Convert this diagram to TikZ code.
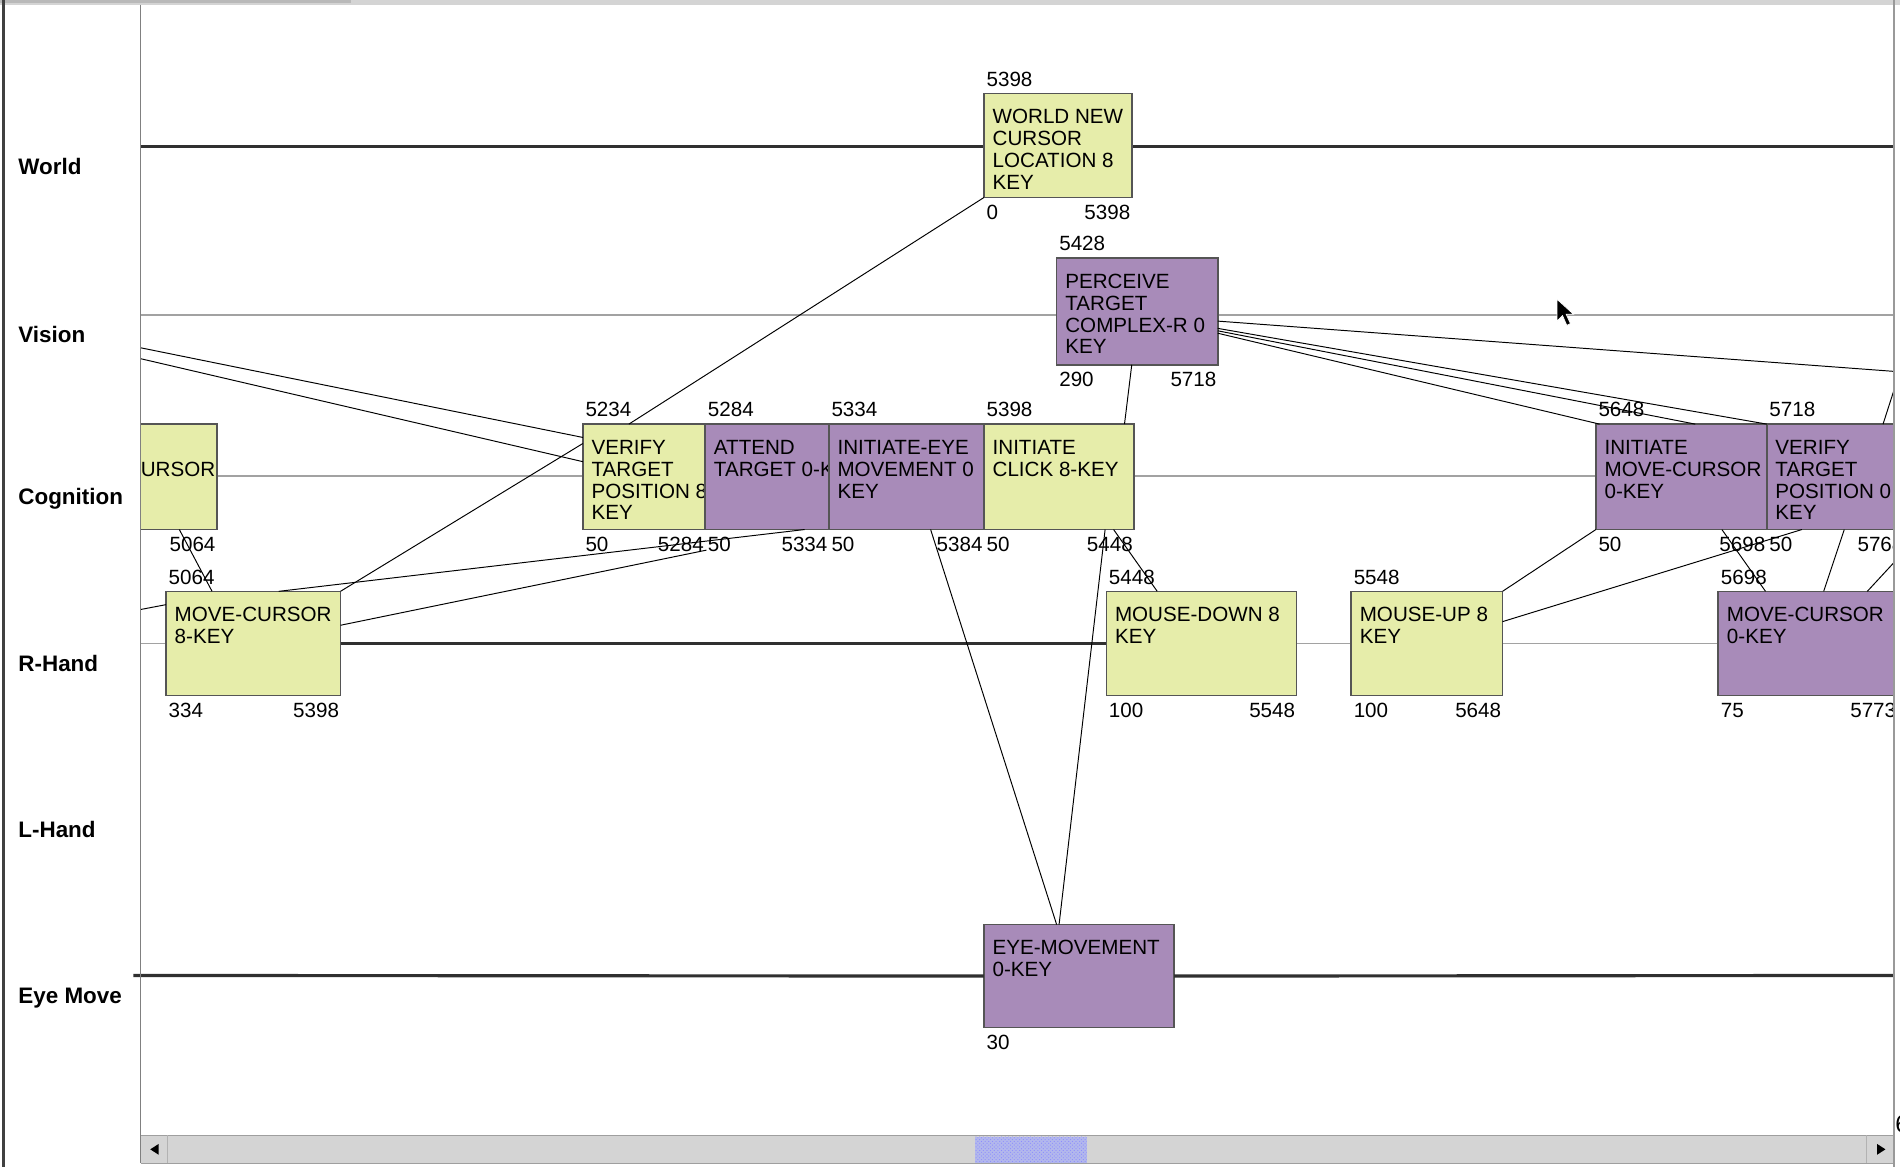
\documentclass[tikz,border=0pt]{standalone}
\usepackage{fontspec}
\setmainfont{Liberation Sans}
\usepackage{xcolor}
\usepackage{tikz}
\usetikzlibrary{positioning,calc,patterns}
\definecolor{opyellow}{HTML}{E6EDAA}
\definecolor{oppurple}{HTML}{A88BB9}
\definecolor{opedge}{HTML}{555555}
\definecolor{lanegray}{HTML}{A2A2A2}
\definecolor{lanedark}{HTML}{303030}
\definecolor{framegray}{HTML}{D4D4D4}
\definecolor{thumbblue}{HTML}{B3B8EC}

\begin{document}
\begin{tikzpicture}[x=1pt, y=-1pt,
  opbox/.style={draw=opedge, line width=1.3pt, inner sep=0pt, outer sep=0pt, anchor=north west},
  optext/.style={font=\fontsize{17}{18}\selectfont, inner sep=0pt, anchor=base west},
  timelab/.style={font=\fontsize{17}{18}\selectfont, inner sep=0pt},
  lanelab/.style={font=\fontsize{18.5}{20}\selectfont\bfseries, inner sep=0pt, anchor=base west},
  thinlane/.style={draw=lanegray, line width=1.5pt},
  thicklane/.style={draw=lanedark, line width=2.6pt},
  dep/.style={draw=black, line width=0.8pt},
]
\useasboundingbox (0,0) rectangle (1568,963);
\def\xL{116}\def\xR{1562}

\begin{scope}
\clip (\xL,4) rectangle (\xR,937);
% lanes: World, Vision, Cognition, R-Hand
\draw[thicklane] (\xL,121) -- (\xR,121);
\draw[thinlane] (\xL,260) -- (\xR,260);
\draw[thinlane] (\xL,393) -- (\xR,393);
\draw[thinlane] (\xL,531) -- (\xR,531);

% operator boxes: name/fill/x1/y1/x2/y2/text
\foreach \nm/\col/\xa/\ya/\xb/\yb/\txt in {%
  wnc/opyellow/812/77/934/163/{WORLD NEW\\CURSOR\\LOCATION 8\\KEY},
  ptc/oppurple/872/213/1005/301/{PERCEIVE\\TARGET\\COMPLEX-R 0\\KEY},
  curs/opyellow/41/350/179/437/{INITIATE\\MOVE-CURSOR\\8-KEY},
  vtpa/opyellow/481/350/582/437/{VERIFY\\TARGET\\POSITION 8\\KEY},
  att/oppurple/582/350/684/437/{ATTEND\\TARGET 0-KEY},
  iem/oppurple/684/350/812/437/{INITIATE-EYE\\MOVEMENT 0\\KEY},
  icl/opyellow/812/350/936/437/{INITIATE\\CLICK 8-KEY},
  imc/oppurple/1317/350/1458/437/{INITIATE\\MOVE-CURSOR\\0-KEY},
  vtpb/oppurple/1458/350/1572/437/{VERIFY\\TARGET\\POSITION 0\\KEY},
  mca/opyellow/137/488/281/574/{MOVE-CURSOR\\8-KEY},
  mdn/opyellow/913/488/1070/574/{MOUSE-DOWN 8\\KEY},
  mup/opyellow/1115/488/1240/574/{MOUSE-UP 8\\KEY},
  mcb/oppurple/1418/488/1566/574/{MOVE-CURSOR\\0-KEY},
  eye/oppurple/812/763/969/848/{EYE-MOVEMENT\\0-KEY}%
}{
  \pgfmathsetmacro{\w}{\xb-\xa}
  \pgfmathsetmacro{\h}{\yb-\ya}
  \node[opbox, fill=\col, minimum width=\w pt, minimum height=\h pt] (\nm) at (\xa,\ya) {};
  \begin{scope}
    \clip (\xa,\ya) rectangle (\xb,\yb);
    \node[optext] at ([xshift=7pt,yshift=-25pt]\nm.north west)
      {\begin{tabular}[t]{@{}l@{}}\txt\end{tabular}};
  \end{scope}
}
% R-Hand busy stretch
\draw[thicklane] (mca.east) -- (mdn.west);

% start times above, durations below left, end times below right
\foreach \nm/\t in {wnc/5398, ptc/5428, vtpa/5234, att/5284, iem/5334, icl/5398,
                    imc/5648, vtpb/5718, mca/5064, mdn/5448, mup/5548, mcb/5698}
  \node[timelab, anchor=base west] at ([xshift=2pt,yshift=6pt]\nm.north west) {\t};
\foreach \nm/\t in {wnc/0, ptc/290, vtpa/50, att/50, iem/50, icl/50, imc/50,
                    vtpb/50, mca/334, mdn/100, mup/100, mcb/75, eye/30}
  \node[timelab, anchor=base west] at ([xshift=2pt,yshift=-18pt]\nm.south west) {\t};
\foreach \nm/\t in {wnc/5398, ptc/5718, curs/5064, vtpa/5284, att/5334, iem/5384,
                    icl/5448, imc/5698, vtpb/5768, mca/5398, mdn/5548, mup/5648, mcb/5773}
  \node[timelab, anchor=base east] at ([xshift=-1pt,yshift=-18pt]\nm.south east) {\t};

% dependencies (free ends run off the window)
\coordinate (lfa) at (\xL,287);
\coordinate (lfb) at (\xL,296);
\coordinate (lfc) at (\xL,503);
\coordinate (tipb) at (583,454);
\coordinate (rta) at (1570,307);
\coordinate (rtb) at (1566,461);
\coordinate (rtc) at (1563,322);
\draw[dep] (wnc.south west) -- ([xshift=38pt]vtpa.north west);
\draw[dep] ([yshift=-16pt]vtpa.north west) -- (mca.north east);
\draw[dep] (lfa) -- ([yshift=-11pt]vtpa.north west);
\draw[dep] (lfb) -- ([yshift=-31pt]vtpa.north west);
\draw[dep] (lfc) -- ([yshift=-11pt]mca.north west);
\draw[dep] ([xshift=93pt]mca.north west) -- ([xshift=82pt]att.south west);
\draw[dep] ([yshift=-28pt]mca.north east) -- (tipb);
\draw[dep] ([xshift=-31pt]curs.south east) -- ([xshift=38pt]mca.north west);
\draw[dep] ([xshift=62pt]ptc.south west) -- ([xshift=116pt]icl.north west);
\draw[dep] ([xshift=84pt]iem.south west) -- ([xshift=60pt]eye.north west);
\draw[dep] ([xshift=100pt]icl.south west) -- ([xshift=62pt]eye.north west);
\draw[dep] ([xshift=107pt]icl.south west) -- ([xshift=42pt]mdn.north west);
\draw[dep] (mup.north east) -- (imc.south west);
\draw[dep] ([yshift=-25pt]mup.north east) -- ([xshift=29pt]vtpb.south west);
\draw[dep] ([xshift=104pt]imc.south west) -- ([xshift=39pt]mcb.north west);
\draw[dep] ([xshift=64pt]vtpb.south west) -- ([xshift=87pt]mcb.north west);
\draw[dep] (rtb) -- ([xshift=123pt]mcb.north west);
\draw[dep] (rtc) -- ([xshift=96pt]vtpb.north west);
\draw[dep] ([yshift=-52pt]ptc.north east) -- (rta);
\draw[dep] ([yshift=-58pt]ptc.north east) -- (vtpb.north west);
\draw[dep] ([yshift=-60pt]ptc.north east) -- ([xshift=82pt]imc.north west);
\draw[dep] ([yshift=-62pt]ptc.north east) -- ([xshift=3pt]imc.north west);

% mouse pointer
\filldraw[fill=black, draw=white, line width=0.6pt] (1285,247) -- ++(0,18) -- ++(4.5,-4.5)
  -- ++(3.5,8) -- ++(3,-1.4) -- ++(-3.5,-7.8) -- ++(6,0) -- cycle;
\end{scope}

% Eye Move lane pokes past the label column
\draw[thicklane] (110,805) -- (eye.west);
\draw[thicklane] (eye.east) -- (\xR,805);

% lane labels
\foreach \nm/\lab/\y in {lw/World/121, lv/Vision/260, lc/Cognition/393,
                         lr/R-Hand/531, ll/L-Hand/668, le/Eye Move/805}
  \node[lanelab] (\nm) at (15,{\y+23}) {\lab};

% window frame
\fill[framegray] (0,0) rectangle (1568,4);
\fill[gray!55] (0,0) rectangle (290,2.5);
\draw[black!75, line width=2.5pt] (3,0) -- (3,963);
\draw[gray, line width=1.4pt] (\xL,4) -- (\xL,960);
\draw[gray!80, line width=1.6pt] (1563,0) -- (1563,963);
\node[font=\fontsize{20}{22}\selectfont, anchor=base west, inner sep=0pt] (edgesix) at (1564,935) {6};

% scroll bar
\fill[framegray] (\xL,937) rectangle (\xR,960);
\draw[gray!75, line width=1pt] (\xL,937) -- (\xR,937);
\draw[gray!75, line width=1pt] (\xL,960) -- (\xR,960);
\draw[gray!60] (138,937) -- (138,960);
\draw[gray!60] (1540,937) -- (1540,960);
\fill[black] (124,948.5) -- (131,944) -- (131,953) -- cycle;
\fill[black] (1556,948.5) -- (1549,944) -- (1549,953) -- cycle;
\fill[thumbblue] (805,938) rectangle (897,959.5);
\fill[pattern=crosshatch dots, pattern color=blue!45] (805,938) rectangle (897,959.5);
\end{tikzpicture}
\end{document}
